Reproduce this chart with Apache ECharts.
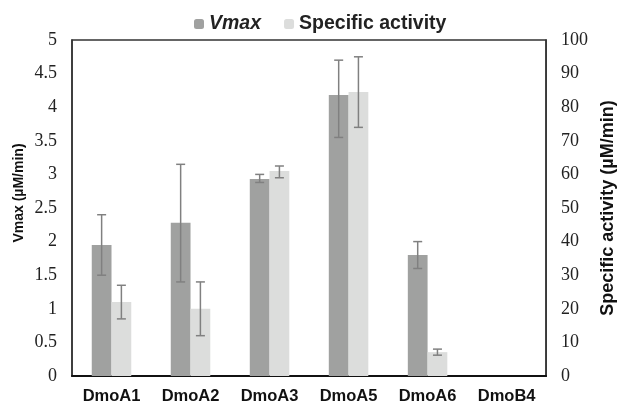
<!DOCTYPE html>
<html><head><meta charset="utf-8">
<script src="https://cdn.jsdelivr.net/npm/echarts@6/dist/echarts.min.js"></script>
<style>html,body{margin:0;padding:0;background:#fff}#c{width:625px;height:406px}</style>
</head><body><div id="c"></div>
<script>
const categories = ['DmoA1','DmoA2','DmoA3','DmoA5','DmoA6','DmoB4'];
const vmax = [1.95, 2.28, 2.93, 4.18, 1.8, 0];
const vmaxLow = [1.5, 1.4, 2.88, 3.55, 1.6, null];
const vmaxHigh = [2.4, 3.15, 3.0, 4.7, 2.0, null];
const specAct = [22, 20, 61, 84.5, 7.1, 0];
const specLow = [17, 12, 59, 74, 6.2, null];
const specHigh = [27, 28, 62.5, 95, 8, null];
const leftTicks = [0,0.5,1,1.5,2,2.5,3,3.5,4,4.5,5];
const rightTicks = [0,10,20,30,40,50,60,70,80,90,100];

const errData = (lo, hi) => categories.map((c,i)=> lo[i]==null ? null : [i, lo[i], hi[i]]).filter(d=>d);
function errRender(side){
  return function(params, api){
    const i = api.value(0);
    const band = api.size([1,0])[0];
    const off = side * band * 0.125;
    const lo = api.coord([i, api.value(1)]);
    const hi = api.coord([i, api.value(2)]);
    const x = lo[0] + off, cw = 4.5;
    const st = {stroke:'#808080', lineWidth:1.5};
    return {type:'group', children:[
      {type:'line', shape:{x1:x,y1:lo[1],x2:x,y2:hi[1]}, style:st},
      {type:'line', shape:{x1:x-cw,y1:lo[1],x2:x+cw,y2:lo[1]}, style:st},
      {type:'line', shape:{x1:x-cw,y1:hi[1],x2:x+cw,y2:hi[1]}, style:st}
    ]};
  };
}
const chart = echarts.init(document.getElementById('c'));
const tickFont = {fontFamily:'Liberation Serif', fontSize:18, color:'#222'};
chart.setOption({
  animation:false,
  legend:{top:9, left:189, itemWidth:10, itemHeight:10, itemGap:23,
    data:[{name:'Vmax', textStyle:{fontStyle:'italic'}},{name:'Specific activity'}],
    textStyle:{fontFamily:'Liberation Sans', fontWeight:'bold', fontSize:19.5, color:'#222'}},
  grid:{left:72, right:67, top:40, bottom:30, show:true, borderColor:'#333', borderWidth:1.5},
  graphic:[{type:'text', x:19, y:193, rotation:Math.PI/2,
    style:{text:'Vmax (µM/min)', font:'bold 14px "Liberation Sans"', fill:'#111', align:'center', verticalAlign:'middle'}}],
  xAxis:{type:'category', data:categories,
    axisLine:{lineStyle:{color:'#111', width:2}}, axisTick:{show:false},
    axisLabel:{fontFamily:'Liberation Sans', fontWeight:'bold', fontSize:16.5, color:'#111', margin:12}},
  yAxis:[
    {type:'value', min:0, max:5, interval:0.5,
     splitLine:{show:false}, axisLine:{show:true, lineStyle:{color:'#333', width:1.5}}, axisTick:{show:false},
     axisLabel:Object.assign({margin:15, formatter:v=>String(v)}, tickFont)},
    {type:'value', min:0, max:100, interval:10, name:'Specific activity (µM/min)', nameLocation:'middle', nameGap:52,
     nameRotate:90,
     nameTextStyle:{fontFamily:'Liberation Sans', fontWeight:'bold', fontSize:18, color:'#111'},
     splitLine:{show:false}, axisLine:{show:true, lineStyle:{color:'#333', width:1.5}}, axisTick:{show:false},
     axisLabel:Object.assign({margin:15}, tickFont)}
  ],
  series:[
    {name:'Vmax', type:'bar', data:vmax, yAxisIndex:0, barWidth:'25%', barGap:'0%', itemStyle:{color:'#a0a1a0'}},
    {name:'Specific activity', type:'bar', data:specAct, yAxisIndex:1, barWidth:'25%', barGap:'0%', itemStyle:{color:'#dcdddc'}},
    {type:'custom', yAxisIndex:0, data:errData(vmaxLow, vmaxHigh), renderItem:errRender(-1), z:5},
    {type:'custom', yAxisIndex:1, data:errData(specLow, specHigh), renderItem:errRender(1), z:5}
  ]
});
</script></body></html>
